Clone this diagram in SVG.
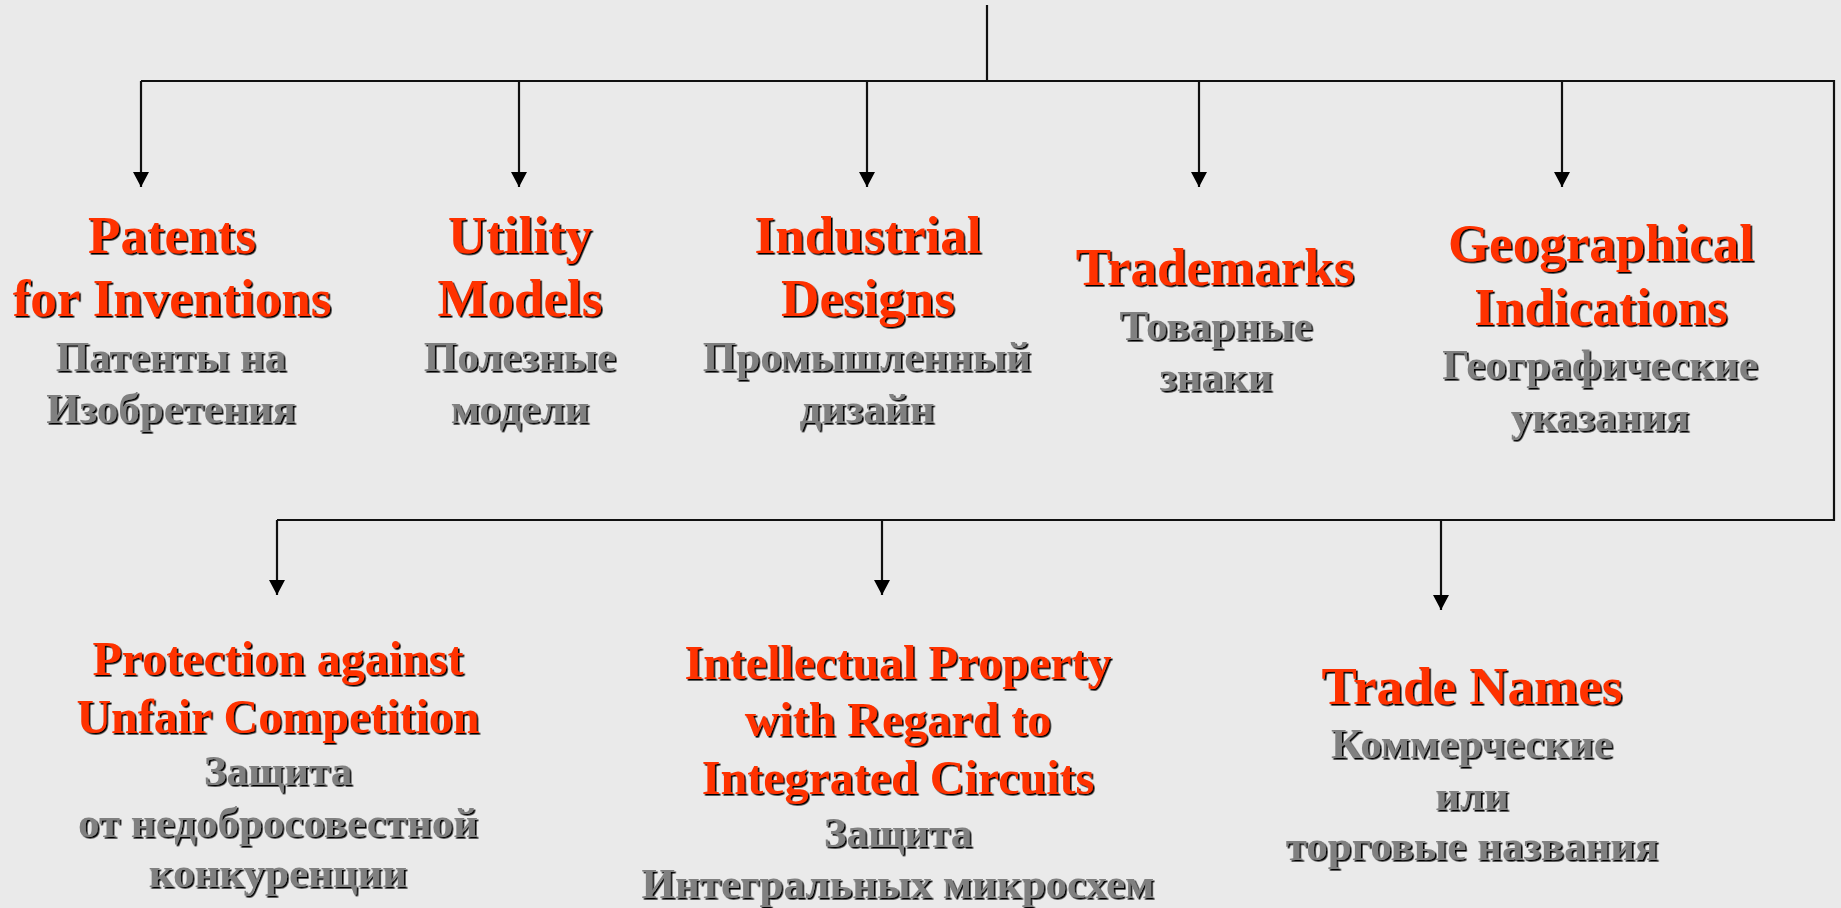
<svg xmlns="http://www.w3.org/2000/svg" width="1841" height="908" viewBox="0 0 1841 908">
<defs>
<style>
.bg{fill:#EAEAEA}
.ln{stroke:#111;stroke-width:2.2;fill:none}
.t{font-family:"Liberation Serif","Times New Roman",serif;font-weight:bold;text-anchor:middle;filter:url(#sh)}
.r{fill:#FF3300;font-size:53px}
.rb{fill:#FF3300;font-size:48px}
.g{fill:#808080;font-size:43px}
</style>
<filter id="sh" x="-5%" y="-20%" width="110%" height="140%">
<feDropShadow dx="1.6" dy="1.6" stdDeviation="0.3" flood-color="#000" flood-opacity="1"/>
</filter>
<marker id="ah" viewBox="0 0 15 16" refX="15" refY="8" markerWidth="15" markerHeight="16" markerUnits="userSpaceOnUse" orient="auto">
<path d="M0,0 L15,8 L0,16 z" fill="#000"/>
</marker>
</defs>
<rect class="bg" x="0" y="0" width="1841" height="908"/>
<g id="connectors">
<line class="ln" x1="987" y1="5" x2="987" y2="81"/>
<polyline class="ln" points="141,81 1834,81 1834,520 277,520"/>
<line class="ln" x1="141" y1="81" x2="141" y2="187" marker-end="url(#ah)"/>
<line class="ln" x1="519" y1="81" x2="519" y2="187" marker-end="url(#ah)"/>
<line class="ln" x1="867" y1="81" x2="867" y2="187" marker-end="url(#ah)"/>
<line class="ln" x1="1199" y1="81" x2="1199" y2="187" marker-end="url(#ah)"/>
<line class="ln" x1="1562" y1="81" x2="1562" y2="187" marker-end="url(#ah)"/>
<line class="ln" x1="277" y1="520" x2="277" y2="595" marker-end="url(#ah)"/>
<line class="ln" x1="882" y1="520" x2="882" y2="595" marker-end="url(#ah)"/>
<line class="ln" x1="1441" y1="520" x2="1441" y2="610" marker-end="url(#ah)"/>
</g>
<g id="patents">
<text class="t r" x="172" y="253">Patents</text>
<text class="t r" x="172" y="316">for Inventions</text>
<text class="t g" x="171" y="371">Патенты на</text>
<text class="t g" x="171" y="423">Изобретения</text>
</g>
<g id="utility">
<text class="t r" x="520" y="253">Utility</text>
<text class="t r" x="520" y="316">Models</text>
<text class="t g" x="520" y="371">Полезные</text>
<text class="t g" x="520" y="423">модели</text>
</g>
<g id="industrial">
<text class="t r" x="868" y="253">Industrial</text>
<text class="t r" x="868" y="316">Designs</text>
<text class="t g" x="867" y="371">Промышленный</text>
<text class="t g" x="867" y="423">дизайн</text>
</g>
<g id="trademarks">
<text class="t r" x="1215" y="285">Trademarks</text>
<text class="t g" x="1216" y="340">Товарные</text>
<text class="t g" x="1216" y="391">знаки</text>
</g>
<g id="geographical">
<text class="t r" x="1601" y="261">Geographical</text>
<text class="t r" x="1601" y="325">Indications</text>
<text class="t g" x="1600" y="379">Географические</text>
<text class="t g" x="1600" y="431">указания</text>
</g>
<g id="unfair">
<text class="t rb" x="278" y="675">Protection against</text>
<text class="t rb" x="278" y="733">Unfair Competition</text>
<text class="t g" x="278" y="785">Защита</text>
<text class="t g" x="278" y="837">от недобросовестной</text>
<text class="t g" x="278" y="887">конкуренции</text>
</g>
<g id="circuits">
<text class="t rb" x="898" y="679">Intellectual Property</text>
<text class="t rb" x="898" y="736">with Regard to</text>
<text class="t rb" x="898" y="794">Integrated Circuits</text>
<text class="t g" x="898" y="847">Защита</text>
<text class="t g" x="898" y="898">Интегральных микросхем</text>
</g>
<g id="tradenames">
<text class="t r" x="1472" y="704">Trade Names</text>
<text class="t g" x="1472" y="758">Коммерческие</text>
<text class="t g" x="1472" y="810">или</text>
<text class="t g" x="1472" y="860">торговые названия</text>
</g>
</svg>
